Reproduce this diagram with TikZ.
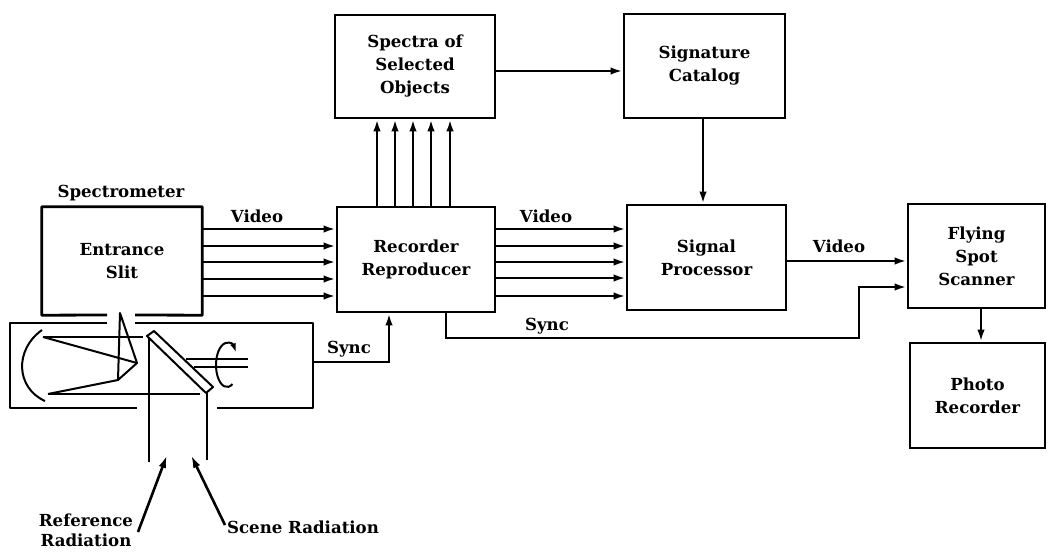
\documentclass[tikz,border=0pt]{standalone}
\usepackage{fontspec}
\setmainfont{DejaVu Serif}
\usetikzlibrary{arrows.meta}
\begin{document}
\begin{tikzpicture}[x=1pt,y=-1pt,
  txt/.style={font=\fontsize{16.6}{23}\selectfont\bfseries, inner sep=0pt},
  box/.style={txt, draw, line width=2.8pt, align=center},
  nobox/.style={txt, align=center},
  boxline/.style={line width=2.8pt, line join=round},
  arr/.style={line width=2.8pt, -{Latex[length=12pt,width=7.5pt]}},
  optic/.style={line width=2pt, line join=round}]
\useasboundingbox (0,0) rectangle (1048,551);

% boxes
\node[nobox, minimum width=160pt, minimum height=108pt] (spec) at (122,261) {Entrance\\Slit};
\draw[boxline] (107,315) -- (spec.south west) -- (spec.north west) -- (spec.north east) -- (spec.south east) -- (135,315);
\node[box, minimum width=158pt, minimum height=105pt] (rec) at (416,259.5) {Recorder\\Reproducer};
\node[box, minimum width=160pt, minimum height=103pt] (spectra) at (415,66.5) {Spectra of\\Selected\\Objects};
\node[box, minimum width=161pt, minimum height=104pt] (sig) at (704.5,66) {Signature\\Catalog};
\node[box, minimum width=159pt, minimum height=105pt] (proc) at (706.5,257.5) {Signal\\Processor};
\node[box, minimum width=137pt, minimum height=104pt] (fly) at (976.5,256) {Flying\\Spot\\Scanner};
\node[box, minimum width=135pt, minimum height=105pt] (photo) at (977.5,395.5) {Photo\\Recorder};

% labels
\node[txt, anchor=base] (lspec) at (121,197) {Spectrometer};
\node[txt, anchor=base] (lv1) at (257,222) {Video};
\node[txt, anchor=base] (lv2) at (546,222) {Video};
\node[txt, anchor=base] (lv3) at (839,252) {Video};
\node[txt, anchor=base] (ls1) at (547,330) {Sync};
\node[txt, anchor=base] (ls2) at (349,353) {Sync};
\node[nobox, font=\fontsize{16.6}{20}\selectfont\bfseries] (lref) at (86,530) {Reference\\Radiation};
\node[txt, anchor=base] (lscene) at (303,533) {Scene Radiation};

% connectors
\foreach \y in {229,246,262,279,296}
  \draw[arr] (spec.east |- 0,\y) -- (rec.west |- 0,\y);
\foreach \y in {229,246,262,278,296}
  \draw[arr] (rec.east |- 0,\y) -- (proc.west |- 0,\y);
\foreach \x in {377,395,413,431,450}
  \draw[arr] (rec.north -| \x,0) -- (spectra.south -| \x,0);
\draw[arr] (spectra.east |- 0,71) -- (sig.west |- 0,71);
\draw[arr] (sig.south -| 703,0) -- (proc.north -| 703,0);
\draw[arr] (proc.east |- 0,261) -- (fly.west |- 0,261);
\draw[arr] (rec.south -| 446,0) |- (859,338) |- (fly.west |- 0,287);
\draw[arr] (fly.south -| 981,0) -- (photo.north -| 981,0);
\coordinate (optR) at (313,362);
\draw[arr] (optR) -| (rec.south -| 389,0);

% optics housing
\draw[boxline] (107,323) -- (10,323) -- (10,408) -- (137,408);
\draw[boxline] (217,408) -- (313,408) -- (313,323) -- (135,323);
% concave mirror
\draw[optic] (42,330) .. controls (14,350) and (16,388) .. (45,401);
% rays
\draw[optic] (43,337) -- (143,337);
\draw[optic] (43,337) -- (137,363);
\draw[optic] (48,394) -- (200,394);
\draw[optic] (48,394) -- (118,380);
% prism / slit
\draw[optic] (120,313) -- (137,363) -- (118,380) -- cycle;
% diagonal mirror
\draw[optic] (147,336) -- (154,331) -- (213,387) -- (206,393) -- cycle;
\draw[optic] (149,337) -- (149,462);
\draw[optic] (207,393) -- (207,460);
\draw[optic] (186,359) -- (248,359);
\draw[optic] (194,367) -- (248,367);
% rotation
\draw[optic, -{Latex[length=9pt,width=6pt]}] (227,365) ++(60:11 and 22) arc[start angle=60, end angle=325, x radius=11, y radius=22];
% radiation arrows
\coordinate (refS) at (138,532);
\coordinate (refT) at (167,455);
\coordinate (scS) at (225,525);
\coordinate (scT) at (191,455);
\draw[line width=2.6pt, -{Latex[length=13pt,width=7.5pt]}] (refS) -- (refT);
\draw[line width=2.6pt, -{Latex[length=13pt,width=7.5pt]}] (scS) -- (scT);
\end{tikzpicture}
\end{document}
